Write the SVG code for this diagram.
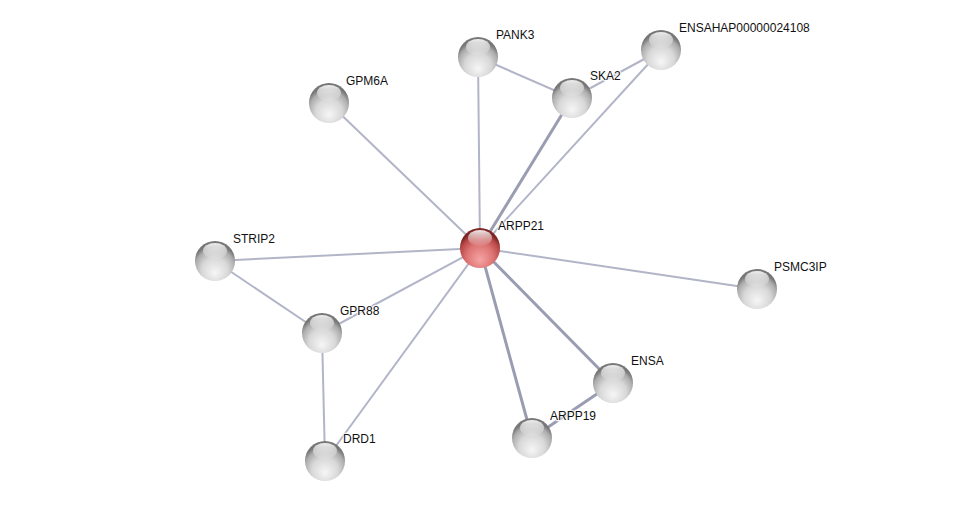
<svg xmlns="http://www.w3.org/2000/svg" width="976" height="506" viewBox="0 0 976 506">
<defs>
<radialGradient id="gGrey" cx="50%" cy="70%" r="60%" fx="50%" fy="80%">
<stop offset="0" stop-color="#f6f6f6"/>
<stop offset="0.55" stop-color="#d8d8d8"/>
<stop offset="0.85" stop-color="#acacac"/>
<stop offset="1" stop-color="#777777"/>
</radialGradient>
<radialGradient id="gRed" cx="50%" cy="70%" r="60%" fx="50%" fy="80%">
<stop offset="0" stop-color="#f6a4a4"/>
<stop offset="0.55" stop-color="#de7474"/>
<stop offset="0.85" stop-color="#ba4848"/>
<stop offset="1" stop-color="#7e2424"/>
</radialGradient>
<linearGradient id="gHi" x1="0" y1="0" x2="0" y2="1">
<stop offset="0" stop-color="#ffffff" stop-opacity="0.9"/>
<stop offset="1" stop-color="#ffffff" stop-opacity="0.05"/>
</linearGradient>
<g id="sphere">
<circle r="20" fill="url(#gGrey)"/>
<ellipse cx="0" cy="-10" rx="12" ry="8" fill="url(#gHi)"/>
</g>
<g id="sphereRed">
<circle r="20" fill="url(#gRed)"/>
<ellipse cx="0" cy="-10" rx="12" ry="8" fill="url(#gHi)"/>
</g>
</defs>
<style>
.e{stroke:#b2b5c8;stroke-width:2;fill:none}
.t{stroke:#9a9db2;stroke-width:3;fill:none}
text{font-family:"Liberation Sans",Arial,sans-serif;font-size:12px;fill:#111;paint-order:stroke;stroke:#ffffff;stroke-width:2.5px;stroke-opacity:0.8}
</style>
<rect width="976" height="506" fill="#ffffff"/>
<g id="edges">
<line class="e" x1="480" y1="248" x2="478" y2="57"/>
<line class="t" x1="480" y1="248" x2="572" y2="98"/>
<line class="e" x1="480" y1="248" x2="661" y2="50"/>
<line class="e" x1="480" y1="248" x2="329" y2="103"/>
<line class="e" x1="480" y1="248" x2="215" y2="261"/>
<line class="e" x1="480" y1="248" x2="322" y2="333"/>
<line class="e" x1="480" y1="248" x2="325" y2="461"/>
<line class="t" x1="480" y1="248" x2="532" y2="438"/>
<line class="t" x1="480" y1="248" x2="613" y2="383"/>
<line class="e" x1="480" y1="248" x2="757" y2="289"/>
<line class="e" x1="478" y1="57" x2="572" y2="98"/>
<line class="e" x1="572" y1="98" x2="661" y2="50"/>
<line class="e" x1="215" y1="261" x2="322" y2="333"/>
<line class="e" x1="322" y1="333" x2="325" y2="461"/>
<line class="t" x1="532" y1="438" x2="613" y2="383"/>
</g>
<g id="n-PANK3"><use href="#sphere" x="478" y="57"/><text x="496" y="39">PANK3</text></g>
<g id="n-SKA2"><use href="#sphere" x="572" y="98"/><text x="590" y="80">SKA2</text></g>
<g id="n-ENSAHAP"><use href="#sphere" x="661" y="50"/><text x="679" y="32">ENSAHAP00000024108</text></g>
<g id="n-GPM6A"><use href="#sphere" x="329" y="103"/><text x="346" y="85">GPM6A</text></g>
<g id="n-STRIP2"><use href="#sphere" x="215" y="261"/><text x="233" y="243">STRIP2</text></g>
<g id="n-GPR88"><use href="#sphere" x="322" y="333"/><text x="340" y="315">GPR88</text></g>
<g id="n-DRD1"><use href="#sphere" x="325" y="461"/><text x="343" y="443">DRD1</text></g>
<g id="n-ARPP19"><use href="#sphere" x="532" y="438"/><text x="550" y="420">ARPP19</text></g>
<g id="n-ENSA"><use href="#sphere" x="613" y="383"/><text x="631" y="365">ENSA</text></g>
<g id="n-PSMC3IP"><use href="#sphere" x="757" y="289"/><text x="774" y="271">PSMC3IP</text></g>
<g id="n-ARPP21"><use href="#sphereRed" x="480" y="248"/><text x="498" y="230">ARPP21</text></g>
</svg>
